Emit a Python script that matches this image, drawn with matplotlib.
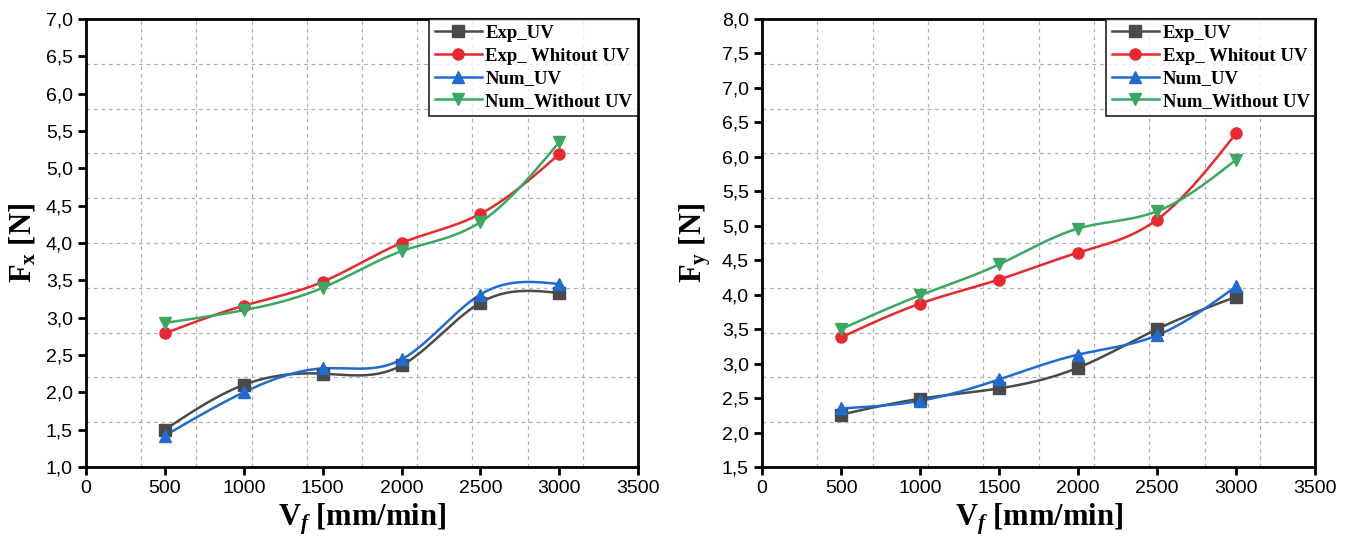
import numpy as np
import matplotlib
matplotlib.use("Agg")
import matplotlib.pyplot as plt
from matplotlib.ticker import FuncFormatter, MultipleLocator

plt.rcParams['mathtext.fontset'] = 'custom'
plt.rcParams['mathtext.rm'] = 'Liberation Serif'
plt.rcParams['mathtext.bf'] = 'Liberation Serif:bold'
plt.rcParams['mathtext.it'] = 'Liberation Serif:italic:bold'

# ---- data ----
vf = [500, 1000, 1500, 2000, 2500, 3000]

fx_exp_uv = [1.50, 2.10, 2.25, 2.36, 3.20, 3.33]
fx_exp_wo = [2.79, 3.16, 3.48, 4.00, 4.39, 5.19]
fx_num_uv = [1.42, 2.00, 2.32, 2.44, 3.31, 3.45]
fx_num_wo = [2.93, 3.10, 3.40, 3.89, 4.28, 5.35]

fy_exp_uv = [2.26, 2.49, 2.64, 2.94, 3.50, 3.97]
fy_exp_wo = [3.38, 3.87, 4.22, 4.61, 5.09, 6.34]
fy_num_uv = [2.35, 2.46, 2.77, 3.13, 3.41, 4.12]
fy_num_wo = [3.50, 3.99, 4.44, 4.96, 5.21, 5.96]

labels = ["Exp_UV", "Exp_ Whitout UV", "Num_UV", "Num_Without UV"]
colors = ["#4a4a4a", "#e8292f", "#1f6bd1", "#3aa860"]
markers = ["s", "o", "^", "v"]


def natural_spline(x, y, n=200):
    x = np.asarray(x, float)
    y = np.asarray(y, float)
    m = len(x)
    h = np.diff(x)
    A = np.zeros((m, m))
    b = np.zeros(m)
    A[0, 0] = 1
    A[-1, -1] = 1
    for i in range(1, m - 1):
        A[i, i - 1] = h[i - 1]
        A[i, i] = 2 * (h[i - 1] + h[i])
        A[i, i + 1] = h[i]
        b[i] = 3 * ((y[i + 1] - y[i]) / h[i] - (y[i] - y[i - 1]) / h[i - 1])
    c = np.linalg.solve(A, b)
    xs = np.linspace(x[0], x[-1], n)
    ys = np.empty_like(xs)
    for k, xv in enumerate(xs):
        i = min(np.searchsorted(x, xv, side='right') - 1, m - 2)
        dx = xv - x[i]
        bi = (y[i + 1] - y[i]) / h[i] - h[i] * (2 * c[i] + c[i + 1]) / 3
        di = (c[i + 1] - c[i]) / (3 * h[i])
        ys[k] = y[i] + bi * dx + c[i] * dx ** 2 + di * dx ** 3
    return xs, ys


fig = plt.figure(figsize=(13.49, 5.43), dpi=100)
ax1 = fig.add_axes([0.0638, 0.140, 0.4092, 0.825])
ax2 = fig.add_axes([0.5649, 0.140, 0.4100, 0.825])

comma = FuncFormatter(lambda v, p: f"{v:.1f}".replace(".", ","))


def draw(ax, series, ymin, ymax, ylabel):
    handles = []
    for ys, lab, c, mk in zip(series, labels, colors, markers):
        xs_s, ys_s = natural_spline(vf, ys)
        ax.plot(xs_s, ys_s, color=c, lw=1.8, zorder=3)
        ax.plot(vf, ys, linestyle='none', marker=mk, color=c, ms=8, zorder=4)
        h, = ax.plot([], [], color=c, lw=1.8, marker=mk, ms=8, label=lab)
        handles.append(h)
    ax.set_xlim(0, 3500)
    ax.set_ylim(ymin, ymax)
    ax.xaxis.set_major_locator(MultipleLocator(500))
    ax.yaxis.set_major_locator(MultipleLocator(0.5))
    ax.yaxis.set_major_formatter(comma)
    # grid at 10 equal divisions
    for gx in np.linspace(0, 3500, 11)[1:-1]:
        ax.axvline(gx, color="#b0b0b0", ls=(0, (3, 3)), lw=0.9, zorder=1)
    for gy in np.linspace(ymin, ymax, 11)[1:-1]:
        ax.axhline(gy, color="#b0b0b0", ls=(0, (3, 3)), lw=0.9, zorder=1)
    for s in ax.spines.values():
        s.set_linewidth(2.0)
        s.set_color('black')
    ax.tick_params(axis='both', direction='out', length=6, width=2,
                   labelsize=14, top=False, right=False)
    for t in ax.get_xticklabels() + ax.get_yticklabels():
        t.set_fontfamily('Liberation Sans')
    ax.set_xlabel(r"$\mathbf{V}_{\mathit{f}}$ [mm/min]", fontsize=22,
                  fontfamily='Liberation Serif', fontweight='bold', labelpad=3)
    ax.set_ylabel(ylabel, fontsize=22, fontfamily='Liberation Serif',
                  fontweight='bold')
    ax.yaxis.set_label_coords(-0.088, 0.5)
    leg = ax.legend(handles=handles, loc='upper right',
                    prop={'family': 'Liberation Serif', 'weight': 'bold', 'size': 13.5},
                    frameon=True, fancybox=False, borderaxespad=0,
                    handlelength=2.5, handletextpad=0.2, labelspacing=0.3,
                    borderpad=0.3)
    leg.get_frame().set_edgecolor('black')
    leg.get_frame().set_linewidth(1.3)
    leg.set_zorder(5)


draw(ax1, [fx_exp_uv, fx_exp_wo, fx_num_uv, fx_num_wo], 1.0, 7.0,
     r"$\mathbf{F}_{\mathbf{x}}$ [N]")
draw(ax2, [fy_exp_uv, fy_exp_wo, fy_num_uv, fy_num_wo], 1.5, 8.0,
     r"$\mathbf{F}_{\mathbf{y}}$ [N]")

fig.savefig("out.png", dpi=100)
